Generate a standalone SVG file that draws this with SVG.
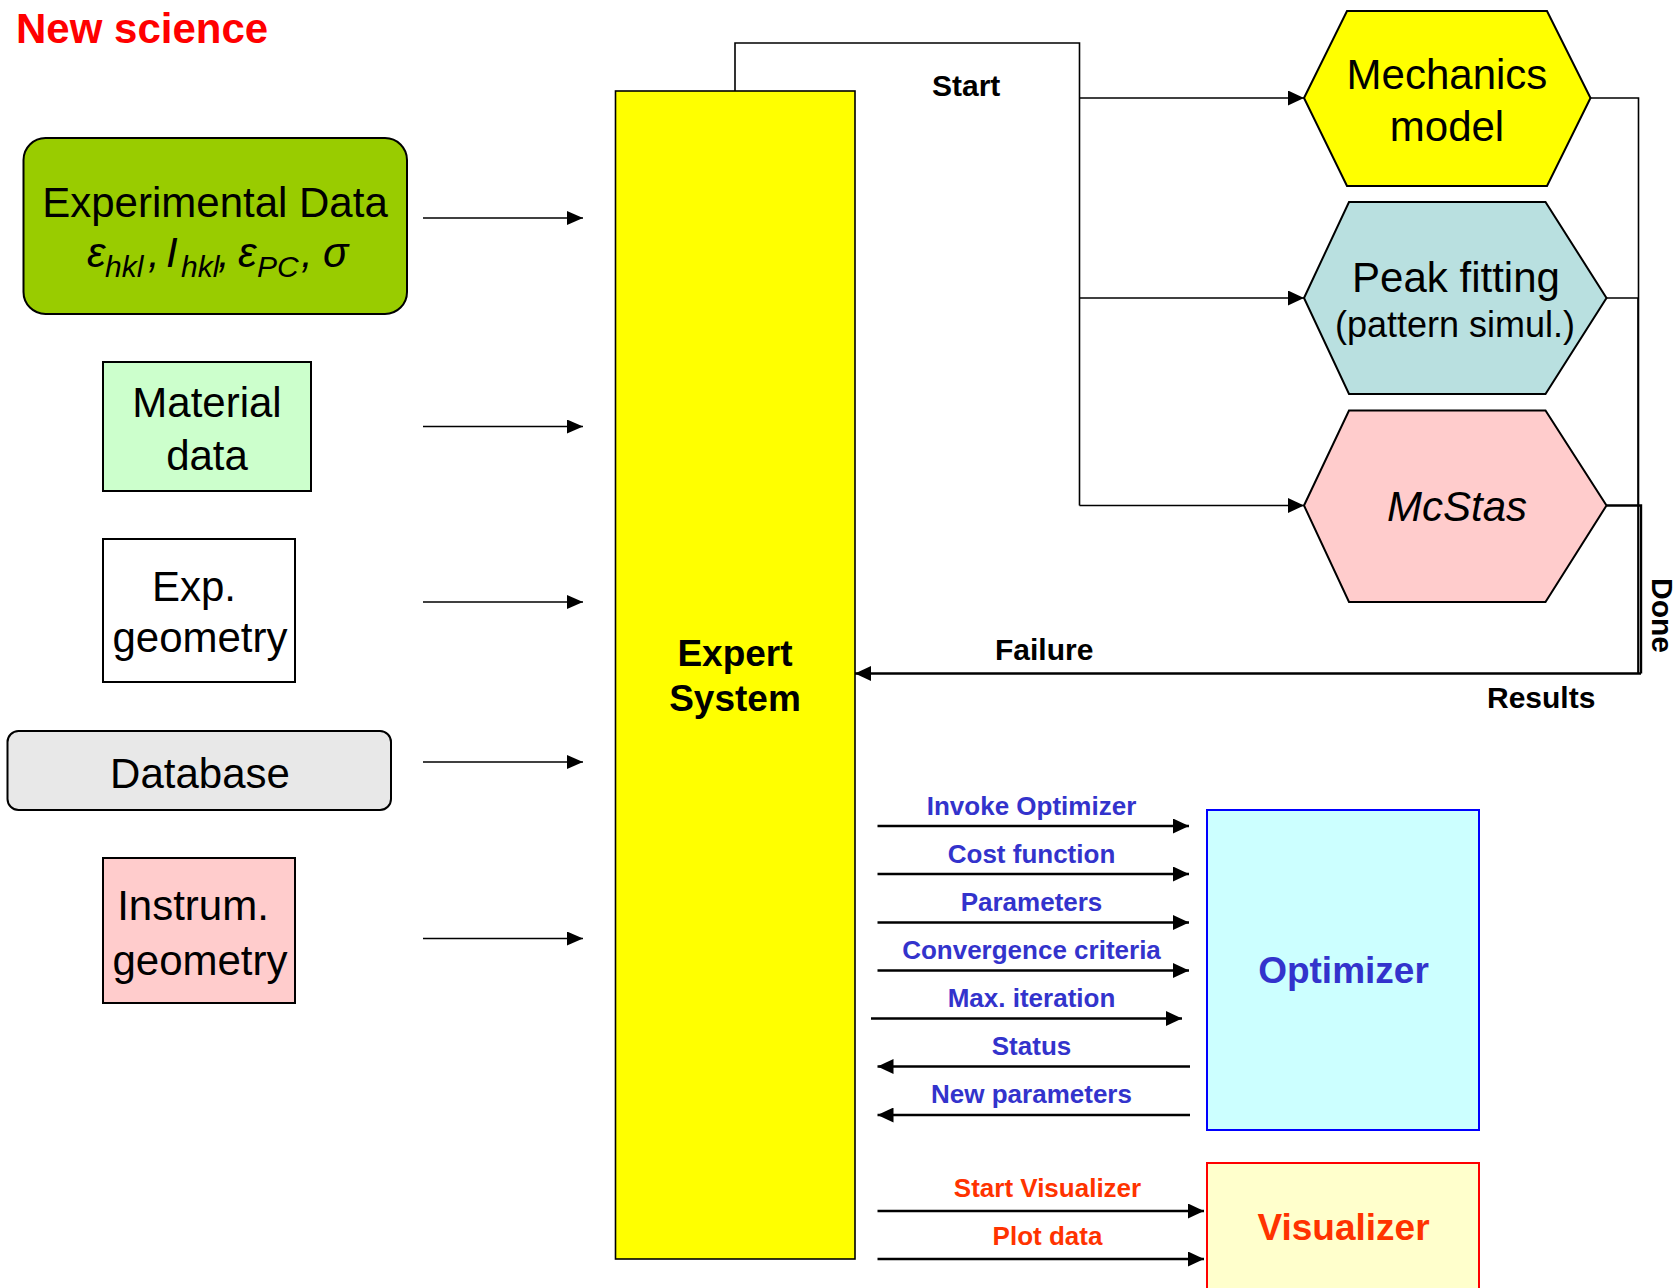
<svg xmlns="http://www.w3.org/2000/svg" width="1676" height="1288" viewBox="0 0 1676 1288">
  <defs>
    <marker id="ah" viewBox="0 0 16 14" refX="16" refY="7" markerWidth="16" markerHeight="14" markerUnits="userSpaceOnUse" orient="auto">
      <path d="M0,0 L16,7 L0,14 Z" fill="#000"/>
    </marker>
    <marker id="ahb" viewBox="0 0 16 15" refX="16" refY="7.5" markerWidth="16" markerHeight="15" markerUnits="userSpaceOnUse" orient="auto">
      <path d="M0,0 L16,7.5 L0,15 Z" fill="#000"/>
    </marker>
    <style>
      text { font-family: "Liberation Sans", Arial, sans-serif; }
      .big { font-size: 42px; fill: #000; text-anchor: middle; }
      .mid { font-size: 36px; fill: #000; text-anchor: middle; }
      .lbl { font-size: 30px; font-weight: bold; fill: #000; }
      .opt { font-size: 26px; font-weight: bold; fill: #3333CC; text-anchor: middle; }
      .vis { font-size: 26px; font-weight: bold; fill: #FF3300; text-anchor: middle; }
      .node { stroke: #000; stroke-width: 2; }
      .thin { fill: none; stroke: #000; stroke-width: 1.6; }
      .bold { fill: none; stroke: #000; stroke-width: 2.4; }
      .sub { font-size: 30px; }
    </style>
  </defs>

  <rect width="1676" height="1288" fill="#fff"/>

  <text x="16" y="43" font-size="42" font-weight="bold" fill="#FF0000">New science</text>

  <!-- input nodes -->
  <g id="experimental-data">
    <rect class="node" x="23.5" y="138" width="383.5" height="176" rx="22" fill="#99CC00"/>
    <text class="big" x="215" y="217">Experimental Data</text>
    <text x="87" y="267" font-size="42" font-style="italic" fill="#000">ε<tspan class="sub" x="105" dy="10">hkl</tspan><tspan x="148" dy="-10">,</tspan><tspan x="166">I</tspan><tspan class="sub" x="181" dy="10">hkl</tspan><tspan x="218" dy="-10">,</tspan><tspan x="238">ε</tspan><tspan class="sub" x="257" dy="10">PC</tspan><tspan x="301" dy="-10">,</tspan><tspan x="323">σ</tspan></text>
  </g>

  <g id="material-data">
    <rect class="node" x="103" y="362" width="208" height="129" fill="#CCFFCC"/>
    <text class="big" x="207" y="417">Material</text>
    <text class="big" x="207" y="470">data</text>
  </g>

  <g id="exp-geometry">
    <rect class="node" x="103" y="539" width="192" height="143" fill="#FFFFFF"/>
    <text class="big" x="194" y="601">Exp.</text>
    <text class="big" x="200" y="652">geometry</text>
  </g>

  <g id="database">
    <rect class="node" x="7.5" y="731" width="383.5" height="79" rx="11" fill="#E8E8E8"/>
    <text class="big" x="200" y="788">Database</text>
  </g>

  <g id="instrum-geometry">
    <rect class="node" x="103" y="858" width="192" height="145" fill="#FFCCCC"/>
    <text class="big" x="193" y="920">Instrum.</text>
    <text class="big" x="200" y="975">geometry</text>
  </g>

  <!-- central controller -->
  <g id="expert-system">
    <rect x="615.5" y="91" width="239.5" height="1168" fill="#FFFF00" stroke="#000" stroke-width="1.6"/>
    <text x="735" y="666" font-size="37" font-weight="bold" text-anchor="middle">Expert</text>
    <text x="735" y="711" font-size="37" font-weight="bold" text-anchor="middle">System</text>
  </g>

  <!-- solvers -->
  <g id="mechanics-model">
    <polygon class="node" points="1304,98 1347,11 1547,11 1590.5,98 1547,186 1347,186" fill="#FFFF00" stroke-width="1.6"/>
    <text class="big" x="1447" y="89">Mechanics</text>
    <text class="big" x="1447" y="141">model</text>
  </g>

  <g id="peak-fitting">
    <polygon class="node" points="1304,298 1349,202 1545.5,202 1606.5,298 1545.5,394 1349,394" fill="#B9E0E0" stroke-width="1.6"/>
    <text class="big" x="1456" y="292">Peak fitting</text>
    <text class="mid" x="1455" y="337">(pattern simul.)</text>
  </g>

  <g id="mcstas">
    <polygon class="node" points="1304,505.5 1349,410.5 1545.5,410.5 1606.5,505.5 1545.5,602 1349,602" fill="#FFCCCC" stroke-width="1.6"/>
    <text class="big" x="1457" y="521" font-style="italic">McStas</text>
  </g>

  <g id="optimizer">
    <rect x="1207" y="810" width="272" height="320" fill="#CCFFFF" stroke="#0000FF" stroke-width="2"/>
    <text x="1343.5" y="983" font-size="37" font-weight="bold" fill="#3333CC" text-anchor="middle">Optimizer</text>
  </g>

  <g id="visualizer">
    <rect x="1207" y="1163" width="272" height="140" fill="#FFFFCC" stroke="#FF0000" stroke-width="2"/>
    <text x="1343.5" y="1240" font-size="37" font-weight="bold" fill="#FF3300" text-anchor="middle">Visualizer</text>
  </g>

  <!-- connectors -->
  <g id="connectors">
    <!-- inputs into the expert system -->
    <line class="thin" x1="423" y1="218" x2="583" y2="218" marker-end="url(#ah)"/>
    <line class="thin" x1="423" y1="426.5" x2="583" y2="426.5" marker-end="url(#ah)"/>
    <line class="thin" x1="423" y1="602" x2="583" y2="602" marker-end="url(#ah)"/>
    <line class="thin" x1="423" y1="762" x2="583" y2="762" marker-end="url(#ah)"/>
    <line class="thin" x1="423" y1="938.5" x2="583" y2="938.5" marker-end="url(#ah)"/>

    <!-- start loop to the solvers -->
    <polyline class="thin" points="735,91 735,43 1079.5,43 1079.5,505.5"/>
    <line class="thin" x1="1079.5" y1="98" x2="1304" y2="98" marker-end="url(#ahb)"/>
    <line class="thin" x1="1079.5" y1="298" x2="1304" y2="298" marker-end="url(#ahb)"/>
    <line class="thin" x1="1079.5" y1="505.5" x2="1304" y2="505.5" marker-end="url(#ahb)"/>
    <text class="lbl" x="932" y="96">Start</text>

    <!-- results back from the solvers -->
    <polyline class="thin" points="1590.5,98 1638.5,98 1638.5,673.5"/>
    <polyline class="thin" points="1606.5,298 1638,298 1638,673.5"/>
    <polyline class="bold" points="1606.5,505.5 1641,505.5 1641,673.5"/>
    <polyline class="bold" points="1641,673.5 855,673.5" marker-end="url(#ahb)"/>
    <text class="lbl" x="995" y="660">Failure</text>
    <text class="lbl" x="1487" y="708">Results</text>
    <text class="lbl" transform="translate(1652,578) rotate(90)">Done</text>

    <!-- optimizer traffic -->
    <line class="bold" x1="877.5" y1="826" x2="1189" y2="826" marker-end="url(#ahb)"/>
    <line class="bold" x1="877.5" y1="874" x2="1189" y2="874" marker-end="url(#ahb)"/>
    <line class="bold" x1="877.5" y1="922.5" x2="1189" y2="922.5" marker-end="url(#ahb)"/>
    <line class="bold" x1="877.5" y1="970.5" x2="1189" y2="970.5" marker-end="url(#ahb)"/>
    <line class="bold" x1="871" y1="1018.5" x2="1182" y2="1018.5" marker-end="url(#ahb)"/>
    <line class="bold" x1="1190" y1="1066.5" x2="877.5" y2="1066.5" marker-end="url(#ahb)"/>
    <line class="bold" x1="1190" y1="1115" x2="877.5" y2="1115" marker-end="url(#ahb)"/>
    <text class="opt" x="1031.5" y="814.5">Invoke Optimizer</text>
    <text class="opt" x="1031.5" y="862.5">Cost function</text>
    <text class="opt" x="1031.5" y="910.5">Parameters</text>
    <text class="opt" x="1031.5" y="958.5">Convergence criteria</text>
    <text class="opt" x="1031.5" y="1007">Max. iteration</text>
    <text class="opt" x="1031.5" y="1055">Status</text>
    <text class="opt" x="1031.5" y="1103">New parameters</text>

    <!-- visualizer traffic -->
    <line class="bold" x1="877.5" y1="1211" x2="1204" y2="1211" marker-end="url(#ahb)"/>
    <line class="bold" x1="877.5" y1="1259" x2="1204" y2="1259" marker-end="url(#ahb)"/>
    <text class="vis" x="1047.5" y="1197">Start Visualizer</text>
    <text class="vis" x="1047.5" y="1245">Plot data</text>
  </g>
</svg>
